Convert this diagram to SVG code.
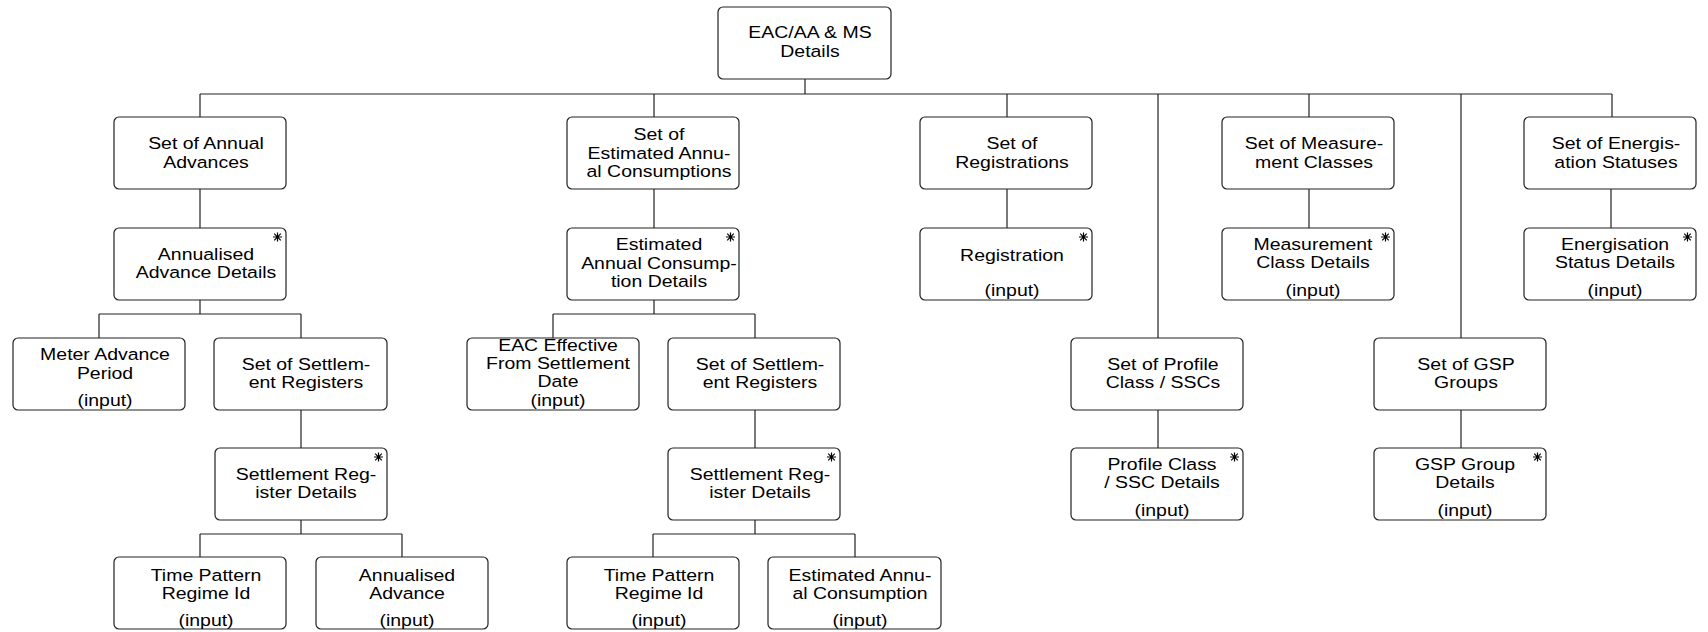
<svg xmlns="http://www.w3.org/2000/svg" xmlns:xlink="http://www.w3.org/1999/xlink" width="1708" height="632" viewBox="0 0 1708 632">
<style>
.box{fill:#fff;stroke:#222;stroke-width:1.2}
.t{font-family:"Liberation Sans",Arial,Helvetica,sans-serif;font-size:16.5px;text-anchor:middle;fill:#000}
.c{fill:none;stroke:#222;stroke-width:1.2}
.ast{fill:none;stroke:#000;stroke-width:1.2}
</style>
<defs>
<path id="ast" class="ast" d="M-4.5,0H4.5M0,-4.5V4.5M-3.3,-3.3L3.3,3.3M-3.3,3.3L3.3,-3.3"/>
</defs>
<rect width="1708" height="632" fill="#fff"/>
<g id="connectors" class="c">
<path d="M805,79V94M200,94H1612M200,94V117M654,94V117M1007,94V117M1309,94V117M1612,94V117M1158,94V338M1461,94V338"/>
<path d="M200,189V228M200,300V314M99,314H301M99,314V338M301,314V338M301,410V448M301,520V534M200,534H402M200,534V557M402,534V557"/>
<path d="M654,189V228M654,300V314M553,314H755M553,314V338M755,314V338M755,410V448M755,520V534M653,534H855M653,534V557M855,534V557"/>
<path d="M1007,189V228M1309,189V228M1611,189V228M1158,410V448M1461,410V448"/>
</g>
<g id="n-root"><rect class="box" x="718" y="7" width="173" height="72" rx="5"/><g transform="translate(810,0) scale(1.18,1)"><text class="t" y="38">EAC/AA &amp; MS</text><text class="t" y="57">Details</text></g></g>
<g id="n-saa"><rect class="box" x="114" y="117" width="172" height="72" rx="5"/><g transform="translate(206,0) scale(1.18,1)"><text class="t" y="149">Set of Annual</text><text class="t" y="168">Advances</text></g></g>
<g id="n-seac"><rect class="box" x="567" y="117" width="172" height="72" rx="5"/><g transform="translate(659,0) scale(1.18,1)"><text class="t" y="140">Set of</text><text class="t" y="159">Estimated Annu-</text><text class="t" y="177">al Consumptions</text></g></g>
<g id="n-sreg"><rect class="box" x="920" y="117" width="172" height="72" rx="5"/><g transform="translate(1012,0) scale(1.18,1)"><text class="t" y="149">Set of</text><text class="t" y="168">Registrations</text></g></g>
<g id="n-smc"><rect class="box" x="1222" y="117" width="172" height="72" rx="5"/><g transform="translate(1314,0) scale(1.18,1)"><text class="t" y="149">Set of Measure-</text><text class="t" y="168">ment Classes</text></g></g>
<g id="n-ses"><rect class="box" x="1524" y="117" width="172" height="72" rx="5"/><g transform="translate(1616,0) scale(1.18,1)"><text class="t" y="149">Set of Energis-</text><text class="t" y="168">ation Statuses</text></g></g>
<g id="n-aad"><rect class="box" x="114" y="228" width="172" height="72" rx="5"/><use href="#ast" x="277.5" y="237"/><g transform="translate(206,0) scale(1.18,1)"><text class="t" y="260">Annualised</text><text class="t" y="278">Advance Details</text></g></g>
<g id="n-eacd"><rect class="box" x="567" y="228" width="172" height="72" rx="5"/><use href="#ast" x="730.5" y="237"/><g transform="translate(659,0) scale(1.18,1)"><text class="t" y="250">Estimated</text><text class="t" y="269">Annual Consump-</text><text class="t" y="287">tion Details</text></g></g>
<g id="n-reg"><rect class="box" x="920" y="228" width="172" height="72" rx="5"/><use href="#ast" x="1083.5" y="237"/><g transform="translate(1012,0) scale(1.18,1)"><text class="t" y="261">Registration</text><text class="t" y="296">(input)</text></g></g>
<g id="n-mcd"><rect class="box" x="1222" y="228" width="172" height="72" rx="5"/><use href="#ast" x="1385.5" y="237"/><g transform="translate(1313,0) scale(1.18,1)"><text class="t" y="250">Measurement</text><text class="t" y="268">Class Details</text><text class="t" y="296">(input)</text></g></g>
<g id="n-esd"><rect class="box" x="1524" y="228" width="172" height="72" rx="5"/><use href="#ast" x="1687.5" y="237"/><g transform="translate(1615,0) scale(1.18,1)"><text class="t" y="250">Energisation</text><text class="t" y="268">Status Details</text><text class="t" y="296">(input)</text></g></g>
<g id="n-map"><rect class="box" x="13" y="338" width="172" height="72" rx="5"/><g transform="translate(105,0) scale(1.18,1)"><text class="t" y="360">Meter Advance</text><text class="t" y="379">Period</text><text class="t" y="406">(input)</text></g></g>
<g id="n-ssr1"><rect class="box" x="214" y="338" width="173" height="72" rx="5"/><g transform="translate(306,0) scale(1.18,1)"><text class="t" y="370">Set of Settlem-</text><text class="t" y="388">ent Registers</text></g></g>
<g id="n-eacef"><rect class="box" x="467" y="338" width="172" height="72" rx="5"/><g transform="translate(558,0) scale(1.18,1)"><text class="t" y="351">EAC Effective</text><text class="t" y="369">From Settlement</text><text class="t" y="387">Date</text><text class="t" y="406">(input)</text></g></g>
<g id="n-ssr2"><rect class="box" x="668" y="338" width="172" height="72" rx="5"/><g transform="translate(760,0) scale(1.18,1)"><text class="t" y="370">Set of Settlem-</text><text class="t" y="388">ent Registers</text></g></g>
<g id="n-spc"><rect class="box" x="1071" y="338" width="172" height="72" rx="5"/><g transform="translate(1163,0) scale(1.18,1)"><text class="t" y="370">Set of Profile</text><text class="t" y="388">Class / SSCs</text></g></g>
<g id="n-sgsp"><rect class="box" x="1374" y="338" width="172" height="72" rx="5"/><g transform="translate(1466,0) scale(1.18,1)"><text class="t" y="370">Set of GSP</text><text class="t" y="388">Groups</text></g></g>
<g id="n-srd1"><rect class="box" x="215" y="448" width="172" height="72" rx="5"/><use href="#ast" x="378.5" y="457"/><g transform="translate(306,0) scale(1.18,1)"><text class="t" y="480">Settlement Reg-</text><text class="t" y="498">ister Details</text></g></g>
<g id="n-srd2"><rect class="box" x="668" y="448" width="172" height="72" rx="5"/><use href="#ast" x="831.5" y="457"/><g transform="translate(760,0) scale(1.18,1)"><text class="t" y="480">Settlement Reg-</text><text class="t" y="498">ister Details</text></g></g>
<g id="n-pcd"><rect class="box" x="1071" y="448" width="172" height="72" rx="5"/><use href="#ast" x="1234.5" y="457"/><g transform="translate(1162,0) scale(1.18,1)"><text class="t" y="470">Profile Class</text><text class="t" y="488">/ SSC Details</text><text class="t" y="516">(input)</text></g></g>
<g id="n-gspd"><rect class="box" x="1374" y="448" width="172" height="72" rx="5"/><use href="#ast" x="1537.5" y="457"/><g transform="translate(1465,0) scale(1.18,1)"><text class="t" y="470">GSP Group</text><text class="t" y="488">Details</text><text class="t" y="516">(input)</text></g></g>
<g id="n-tpr1"><rect class="box" x="114" y="557" width="172" height="72" rx="5"/><g transform="translate(206,0) scale(1.18,1)"><text class="t" y="581">Time Pattern</text><text class="t" y="599">Regime Id</text><text class="t" y="626">(input)</text></g></g>
<g id="n-aa"><rect class="box" x="316" y="557" width="172" height="72" rx="5"/><g transform="translate(407,0) scale(1.18,1)"><text class="t" y="581">Annualised</text><text class="t" y="599">Advance</text><text class="t" y="626">(input)</text></g></g>
<g id="n-tpr2"><rect class="box" x="567" y="557" width="172" height="72" rx="5"/><g transform="translate(659,0) scale(1.18,1)"><text class="t" y="581">Time Pattern</text><text class="t" y="599">Regime Id</text><text class="t" y="626">(input)</text></g></g>
<g id="n-eac"><rect class="box" x="768" y="557" width="173" height="72" rx="5"/><g transform="translate(860,0) scale(1.18,1)"><text class="t" y="581">Estimated Annu-</text><text class="t" y="599">al Consumption</text><text class="t" y="626">(input)</text></g></g>
</svg>
